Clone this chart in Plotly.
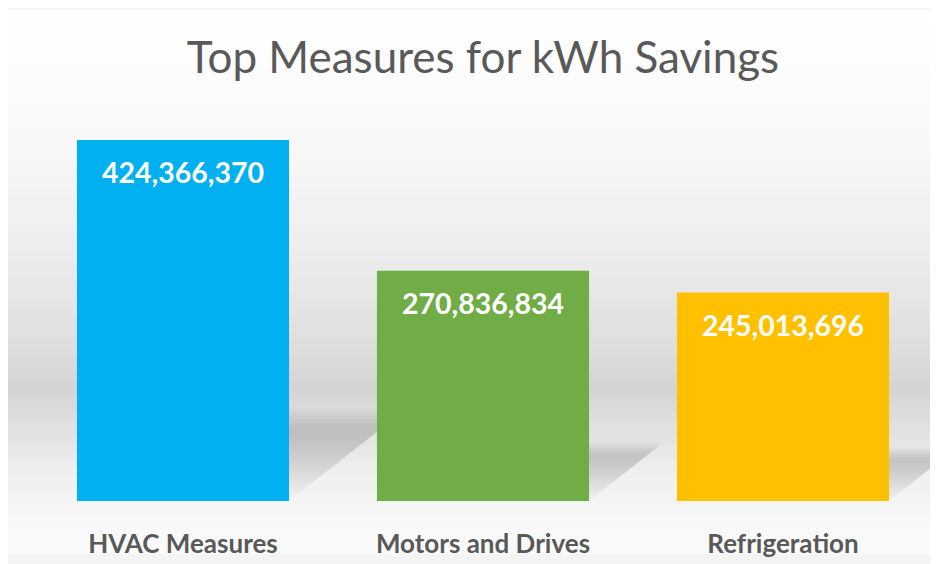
import plotly.graph_objects as go

# ---- data ----
categories = ["HVAC Measures", "Motors and Drives", "Refrigeration"]
savings_kwh = [424366370, 270836834, 245013696]
bar_colors = ["#00B0F0", "#70AD47", "#FFC000"]
title_text = "Top Measures for kWh Savings"

# ---- geometry / style (page body adds an 8px margin) ----
W, H = 930, 556
ML, MR, MT, MB = 25, 5, 92, 54
PW, PH = W - ML - MR, H - MT - MB
YMAX = 471.5e6
BAR_W = 0.707
SHADOW_FRAC = 0.24      # shadow height relative to bar height
SHADOW_SKEW = 1.24      # horizontal px per vertical px of shadow

def px_to_paper_x(px):
    return (px - ML) / PW

def px_to_paper_y(py):
    return (H - MB - py) / PH

# background vertical gradient (figure pixel y, grey level)
grad_stops = [(0, 255), (52, 253), (152, 247), (252, 236), (332, 224),
              (389, 212), (432, 226), (472, 239), (522, 248), (556, 250)]

def grey_at(y):
    for (y0, g0), (y1, g1) in zip(grad_stops[:-1], grad_stops[1:]):
        if y0 <= y <= y1:
            t = (y - y0) / (y1 - y0)
            return g0 + (g1 - g0) * t
    return grad_stops[-1][1]

shapes = []
step = 3
y = 0
while y < H:
    g = int(round(grey_at(y + step / 2)))
    shapes.append(dict(
        type="rect", xref="paper", yref="paper", layer="below",
        x0=px_to_paper_x(-2), x1=px_to_paper_x(W + 2),
        y0=px_to_paper_y(min(y + step, H) + 0.5), y1=px_to_paper_y(y),
        fillcolor=f"rgb({g},{g},{g})", line=dict(width=0)))
    y += step

fig = go.Figure()

# soft shadows (computed from bar values), several stacked layers
x_per_px = 1.0 / (PW / 3.0)
yval_per_px = YMAX / PH
for i, v in enumerate(savings_kwh):
    right = i + BAR_W / 2
    limit = (i + 1 - BAR_W / 2) if i + 1 < len(savings_kwh) else 2.6
    for scale, alpha in [(1.08, 0.20), (1.04, 0.25), (1.0, 0.30), (0.95, 0.32), (0.88, 0.30)]:
        top = SHADOW_FRAC * v * scale
        s_px = top / yval_per_px
        dx = SHADOW_SKEW * s_px * x_per_px
        if right + dx <= limit:
            xs = [right, right + dx, right, right]
            ys = [top, top, 0, top]
        else:
            frac = (limit - right) / dx
            y_at = top * frac
            xs = [right, limit, limit, right, right]
            ys = [top, top, y_at, 0, top]
        fig.add_trace(go.Scatter(
            x=xs, y=ys, mode="lines", line=dict(width=0), fill="toself",
            fillgradient=dict(type="vertical", colorscale=[
                [0.0, "rgba(150,150,150,0.0)"],
                [0.45, f"rgba(150,150,150,{alpha * 0.25:.3f})"],
                [0.85, f"rgba(150,150,150,{alpha * 0.45:.3f})"],
                [1.0, f"rgba(150,150,150,{alpha * 0.25:.3f})"]]),
            hoverinfo="skip", showlegend=False))

fig.add_trace(go.Bar(
    x=list(range(len(categories))), y=savings_kwh, width=BAR_W,
    marker=dict(color=bar_colors, line=dict(width=0)),
    hoverinfo="skip", showlegend=False))

annotations = []
for i, v in enumerate(savings_kwh):
    annotations.append(dict(
        x=i, y=v, xref="x", yref="y", text=f"{v:,}", showarrow=False,
        yanchor="top", yshift=-13,
        font=dict(family="Lato", size=28.5, color="white", weight="bold")))

fig.update_layout(
    width=W, height=H,
    margin=dict(l=ML, r=MR, t=MT, b=MB),
    paper_bgcolor="#f4f4f4",
    plot_bgcolor="rgba(0,0,0,0)",
    title=dict(text=title_text, x=0.5, xref="paper", xanchor="center",
               y=1 - 50 / H, yref="container", yanchor="middle",
               font=dict(family="Lato", size=44, color="#595959")),
    xaxis=dict(range=[-0.5, 2.5], tickvals=list(range(len(categories))),
               ticktext=categories, showgrid=False, zeroline=False,
               showline=False, ticks="", ticklabelstandoff=25,
               tickfont=dict(family="Lato", size=26, color="#595959", weight="bold")),
    yaxis=dict(range=[0, YMAX], visible=False, showgrid=False, zeroline=False),
    shapes=shapes,
    annotations=annotations,
    bargap=0.293,
)

fig.write_html("out.html")
